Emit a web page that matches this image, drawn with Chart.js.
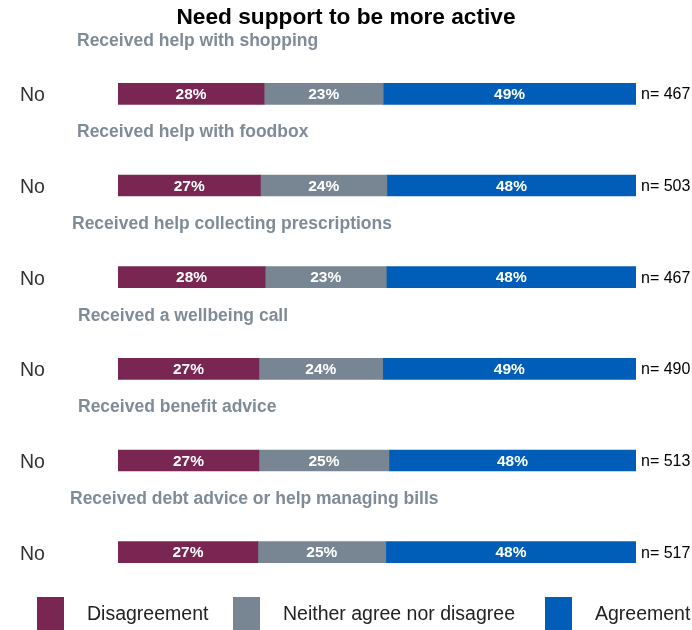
<!DOCTYPE html>
<html>
<head>
<meta charset="utf-8">
<script src="https://cdn.jsdelivr.net/npm/chart.js@4"></script>
<style>
  body { margin: 0; background: #fff; }
  #wrap { width: 692px; height: 630px; }
</style>
</head>
<body>
<div id="wrap"><canvas id="supportChart" width="692" height="630"></canvas></div>
<script>
// ========== DATA ==========
const chartTitle = "Need support to be more active";
const groups = [
  "Received help with shopping",
  "Received help with foodbox",
  "Received help collecting prescriptions",
  "Received a wellbeing call",
  "Received benefit advice",
  "Received debt advice or help managing bills"
];
const rowLabels = ["No", "No", "No", "No", "No", "No"];
const disagreement = [28.2, 27.5, 28.4, 27.2, 27.2, 27.0];
const neither = [23.0, 24.4, 23.4, 23.9, 25.1, 24.7];
const agreement = [48.8, 48.1, 48.2, 48.9, 47.7, 48.3];
const shownDisagree = [28, 27, 28, 27, 27, 27];
const shownNeither = [23, 24, 23, 24, 25, 25];
const shownAgree = [49, 48, 48, 49, 48, 48];
const sampleSizes = [467, 503, 467, 490, 513, 517];

const FONT = "'Liberation Sans', Arial, sans-serif";

// ========== OVERLAY: title, group titles, % labels, n=, legend ==========
const overlay = {
  id: "overlay",
  afterDatasetsDraw(chart) {
    const ctx = chart.ctx;
    const y = chart.scales.y;
    const area = chart.chartArea;
    ctx.save();
    ctx.textBaseline = "middle";

    // main title, centred on the canvas
    ctx.font = "bold 22.7px " + FONT;
    ctx.fillStyle = "#000";
    ctx.textAlign = "center";
    ctx.fillText(chartTitle, chart.width / 2, 18);

    // group titles above each bar
    ctx.font = "bold 17.5px " + FONT;
    ctx.fillStyle = "#7f8b97";
    ctx.textAlign = "left";
    const titleX = [77, 77, 72, 78, 78, 70];
    groups.forEach(function (g, i) {
      ctx.fillText(g, titleX[i], y.getPixelForValue(i) - 53);
    });

    // percent labels inside segments
    const shown = [shownDisagree, shownNeither, shownAgree];
    ctx.font = "bold 15.5px " + FONT;
    ctx.fillStyle = "#ffffff";
    ctx.textAlign = "center";
    chart.data.datasets.forEach(function (ds, d) {
      const meta = chart.getDatasetMeta(d);
      meta.data.forEach(function (bar, i) {
        const left = Math.min(bar.x, bar.base);
        const right = Math.max(bar.x, bar.base);
        ctx.fillText(shown[d][i] + "%", (left + right) / 2, bar.y + 1);
      });
    });

    // n= labels
    ctx.font = "16px " + FONT;
    ctx.fillStyle = "#000000";
    ctx.textAlign = "left";
    sampleSizes.forEach(function (n, i) {
      ctx.fillText("n= " + n, area.right + 5, y.getPixelForValue(i) + 1);
    });

    // legend
    const legendX = [37, 233, 545];
    ctx.font = "19.5px " + FONT;
    chart.data.datasets.forEach(function (ds, d) {
      ctx.fillStyle = ds.backgroundColor;
      ctx.fillRect(legendX[d], 597, 27, 36);
      ctx.fillStyle = "#222";
      ctx.fillText(ds.label, legendX[d] + 50, 615);
    });

    ctx.restore();
  }
};

new Chart(document.getElementById("supportChart"), {
  type: "bar",
  data: {
    labels: rowLabels,
    datasets: [
      { label: "Disagreement", data: disagreement, backgroundColor: "#7a2652" },
      { label: "Neither agree nor disagree", data: neither, backgroundColor: "#778692" },
      { label: "Agreement", data: agreement, backgroundColor: "#005eb8" }
    ]
  },
  options: {
    indexAxis: "y",
    responsive: false,
    animation: false,
    barThickness: 21,
    layout: {
      padding: { top: 48, right: 56, bottom: 32, left: 20 }
    },
    plugins: {
      legend: { display: false },
      tooltip: { enabled: false },
      title: { display: false }
    },
    scales: {
      x: {
        stacked: true,
        min: 0,
        max: 100,
        display: false
      },
      y: {
        stacked: true,
        grid: { display: false, drawTicks: false },
        border: { display: false },
        ticks: {
          color: "#333",
          padding: 0,
          labelOffset: 2,
          crossAlign: "far",
          font: { family: FONT, size: 19.5 }
        },
        afterFit: function (axis) { axis.width = 98; }
      }
    }
  },
  plugins: [overlay]
});
</script>
</body>
</html>
